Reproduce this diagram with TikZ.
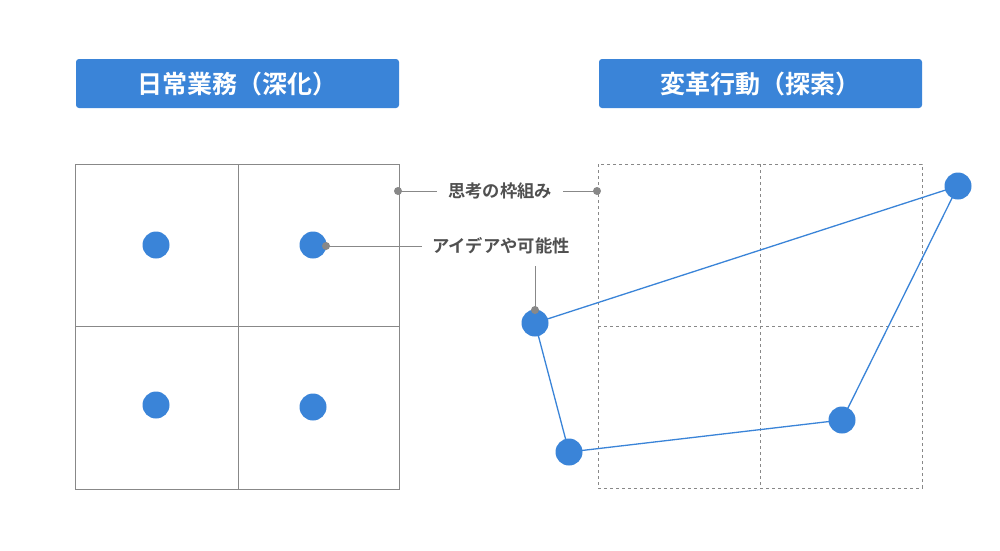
\documentclass[tikz,border=0pt]{standalone}
\usepackage{fontspec}
\setmainfont{Noto Sans CJK JP}[BoldFont={Noto Sans CJK JP Bold}]
\definecolor{blu}{RGB}{58,132,216}
\definecolor{gry}{RGB}{136,136,136}
\definecolor{txt}{RGB}{80,80,80}
\begin{document}
\begin{tikzpicture}[x=1pt,y=-1pt,
  title/.style={fill=blu,rounded corners=3pt,text=white,font=\bfseries\fontsize{25}{29}\selectfont,minimum width=323pt,minimum height=49pt,inner sep=0pt},
  bigdot/.style={circle,fill=blu,minimum size=27pt,inner sep=0pt},
  smalldot/.style={circle,fill=gry,minimum size=8pt,inner sep=0pt},
  lbl/.style={text=txt,font=\bfseries\fontsize{17.3}{20}\selectfont,inner sep=0pt},
  grid/.style={draw=gry,line width=0.8pt},
  dgrid/.style={draw=gry,line width=0.8pt,dash pattern=on 3pt off 3pt},
  leader/.style={draw=gry,line width=1pt},
  poly/.style={draw=blu,line width=1.3pt}]
\useasboundingbox (0,0) rectangle (1000,550);
\fill[white] (0,0) rectangle (1000,550);
% titles
\node[title] (t1) at (237.5,83.5) {日常業務（深化）};
\node[title] (t2) at (760.5,83.5) {変革行動（探索）};
% left grid
\draw[grid] (75,164) rectangle (399,489);
\draw[grid] (238,164) -- (238,489);
\draw[grid] (75,326) -- (399,326);
% right grid
\draw[dgrid] (598,164) rectangle (922,488);
\draw[dgrid] (760,164) -- (760,488);
\draw[dgrid] (598,326) -- (922,326);
% left dots
\node[bigdot] (a1) at (156,245) {};
\node[bigdot] (a2) at (313,245) {};
\node[bigdot] (a3) at (156,405) {};
\node[bigdot] (a4) at (313,407) {};
% right polygon
\coordinate (b1) at (535,323);
\coordinate (b2) at (958,186);
\coordinate (b3) at (842,420);
\coordinate (b4) at (569,452);
\draw[poly] (b1) -- (b2) -- (b3) -- (b4) -- cycle;
\node[bigdot] (d1) at (b1) {};
\node[bigdot] (d2) at (b2) {};
\node[bigdot] (d3) at (b3) {};
\node[bigdot] (d4) at (b4) {};
% labels
\node[lbl] (l1) at (500,191) {思考の枠組み};
\node[lbl] (l2) at (501,246) {アイデアや可能性};
\node[smalldot] (s1) at (398,191) {};
\node[smalldot] (s2) at (597,191) {};
\node[smalldot] (s3) at (326,246) {};
\node[smalldot] (s4) at (535,310) {};
\coordinate (c4) at (535,266);
\draw[leader] (s1.center) -- ([xshift=-11pt]l1.west);
\draw[leader] ([xshift=11pt]l1.east) -- (s2.center);
\draw[leader] (s3.center) -- ([xshift=-10pt]l2.west);
\draw[leader] (c4) -- (s4.center);
\end{tikzpicture}
\end{document}
